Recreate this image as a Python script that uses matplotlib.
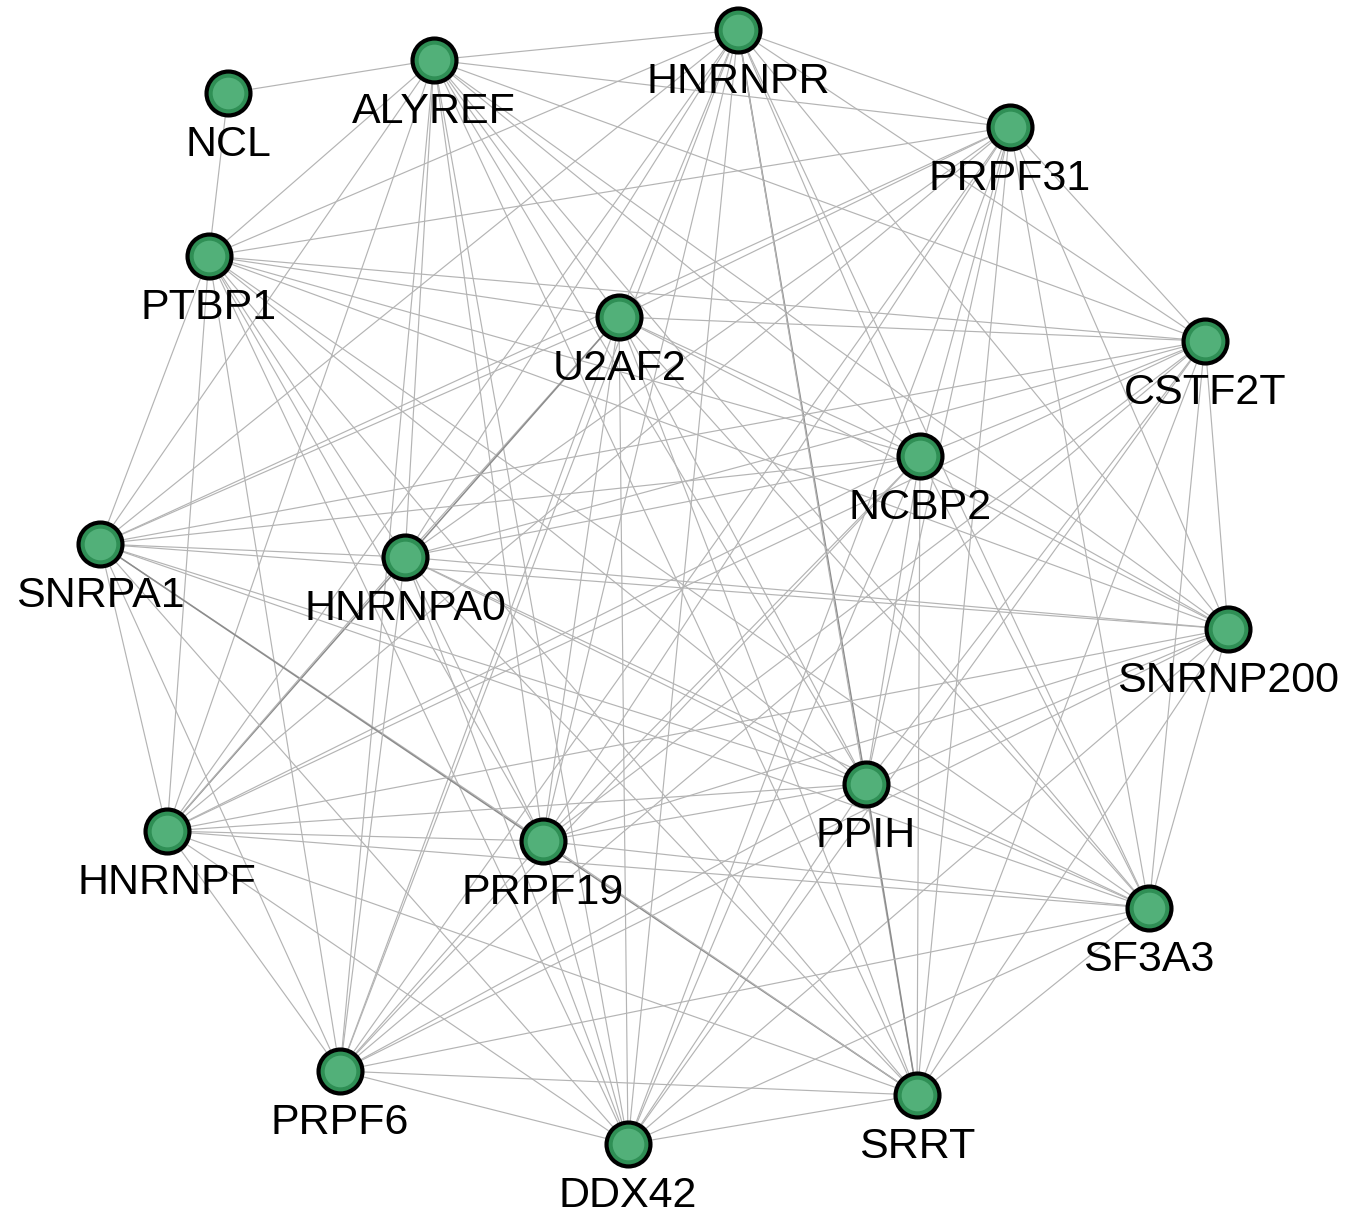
import itertools
import matplotlib
import matplotlib.pyplot as plt

matplotlib.rc('font', family=['Liberation Sans', 'DejaVu Sans'])

# node names and layout positions (pixel-like coordinates)
names = ["NCL", "ALYREF", "HNRNPR", "PRPF31", "PTBP1", "U2AF2", "CSTF2T", "NCBP2",
         "SNRPA1", "HNRNPA0", "SNRNP200", "PPIH", "HNRNPF", "PRPF19", "SF3A3",
         "PRPF6", "SRRT", "DDX42"]
pos_x = [228, 434, 738, 1010, 209, 619, 1205, 920, 100, 405, 1228, 866, 167, 543, 1149, 340, 917, 628]
pos_y = [93, 60, 30, 127, 256, 317, 341, 456, 544, 557, 629, 784, 831, 841, 908, 1071, 1095, 1144]

# edges: NCL only touches two nodes, the rest are (almost) all linked
ncl_edges = [("NCL", "ALYREF"), ("NCL", "PTBP1")]
core = [n for n in names if n != "NCL"]
core_edges = list(itertools.combinations(core, 2))

# stronger interactions, drawn darker
strong_edges = [("SNRPA1", "SRRT"), ("HNRNPR", "PPIH"), ("PPIH", "SRRT"),
                ("U2AF2", "HNRNPF")]

pos = {n: (x, y) for n, x, y in zip(names, pos_x, pos_y)}
strong = set(frozenset(e) for e in strong_edges)

fig = plt.figure(figsize=(13.53, 12.18), dpi=100)
ax = fig.add_axes([0, 0, 1, 1])
ax.set_xlim(0, 1353)
ax.set_ylim(1218, 0)
ax.axis("off")

for a, b in ncl_edges + core_edges:
    (x1, y1), (x2, y2) = pos[a], pos[b]
    if frozenset((a, b)) in strong:
        ax.plot([x1, x2], [y1, y2], color="#8c8c8c", lw=1.1, zorder=1)
    else:
        ax.plot([x1, x2], [y1, y2], color="#b4b4b4", lw=0.85, zorder=1)

ax.scatter(pos_x, pos_y, s=1000, c="#2f8f55", edgecolors="black", linewidths=3.0, zorder=3)
ax.scatter(pos_x, pos_y, s=520, c="#52b079", linewidths=0, zorder=4)

for n, x, y in zip(names, pos_x, pos_y):
    ax.text(x, y + 52, n, ha="center", va="center", fontsize=31, color="black", zorder=5)

plt.savefig("out.png", dpi=100)
